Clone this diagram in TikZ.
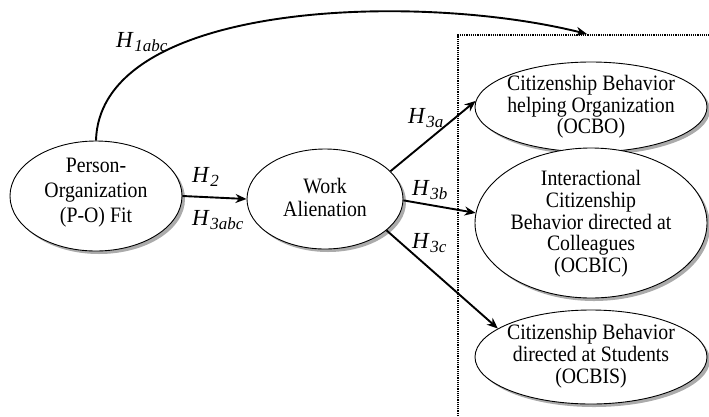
\documentclass[tikz,border=0pt]{standalone}
\usepackage{fontspec}
\setmainfont{Liberation Serif}
\newfontfamily\narrowserif[FakeStretch=0.9]{Liberation Serif}
\usetikzlibrary{shapes.geometric,shadows,arrows.meta}

% hypothesis label: italic H with an italic subscript
\newcommand\hyp[1]{\textit{H}\kern0.5pt\raisebox{-0.2em}{\fontsize{17}{17}\selectfont\textit{#1}}}

\tikzset{
  construct/.style={ellipse, draw=black, line width=0.9pt, fill=white,
    inner sep=0pt,
    drop shadow={shadow xshift=3pt, shadow yshift=-3pt, fill=black!55, opacity=0.6}},
  caption/.style={align=center, inner sep=0pt, font=\narrowserif\fontsize{22}{#1}\selectfont},
  caption/.default=21.7,
  path arrow/.style={line width=1.9pt, -{Stealth[length=11pt,width=9pt]}},
  hlabel/.style={anchor=base west, inner sep=0pt, font=\fontsize{23}{23}\selectfont},
  groupbox/.style={line width=1.2pt, densely dotted}
}

\begin{document}
\begin{tikzpicture}[x=1pt, y=-1pt]
  \useasboundingbox (0,0) rectangle (709,416);

  % dotted frame around the outcome constructs
  \coordinate (boxbl) at (458,416);
  \coordinate (boxtl) at (458,35);
  \coordinate (boxtr) at (709,35);
  \draw[groupbox] (boxbl) -- (boxtl) -- (boxtr);

  % constructs (outline) and their captions
  \node[construct, minimum width=172pt, minimum height=110pt] (po) at (96,196) {};
  \node[caption=25] (potext) at (96,193) {Person-\\Organization\\(P-O) Fit};

  \node[construct, minimum width=156pt, minimum height=100pt] (wa) at (325,199) {};
  \node[caption=23] (watext) at (325,197) {Work\\Alienation};

  \node[construct, minimum width=232pt, minimum height=90pt] (ocbo) at (591,107) {};
  \node[caption] (ocbotext) at (591,107) {Citizenship Behavior\\helping Organization\\(OCBO)};

  \node[construct, minimum width=232pt, minimum height=150pt] (ocbic) at (591,223) {};
  \node[caption] (ocbictext) at (591,224) {Interactional\\Citizenship\\Behavior directed at\\Colleagues\\(OCBIC)};

  \node[construct, minimum width=232pt, minimum height=94pt] (ocbis) at (591,357) {};
  \node[caption] (ocbistext) at (591,356) {Citizenship Behavior\\directed at Students\\(OCBIS)};

  % direct path to the outcome group
  \coordinate (grouptop) at (587,34);
  \draw[path arrow] (po.north) .. controls (100,0) and (420,-8) .. (grouptop);

  % mediated paths
  \draw[path arrow] (po.east) -- (wa.west);
  \draw[path arrow] (wa.23) -- (ocbo.177);
  \draw[path arrow] (wa.-1) -- (ocbic.175);
  \draw[path arrow] (wa.-27) -- (ocbis.163);

  % hypothesis labels
  \node[hlabel] (h1) at (116,47) {\hyp{1abc}};
  \node[hlabel] (h2) at (192,182) {\hyp{2}};
  \node[hlabel] (h3abc) at (192,225) {\hyp{3abc}};
  \node[hlabel] (h3a) at (408,123) {\hyp{3a}};
  \node[hlabel] (h3b) at (412,195) {\hyp{3b}};
  \node[hlabel] (h3c) at (412,248) {\hyp{3c}};
\end{tikzpicture}
\end{document}
